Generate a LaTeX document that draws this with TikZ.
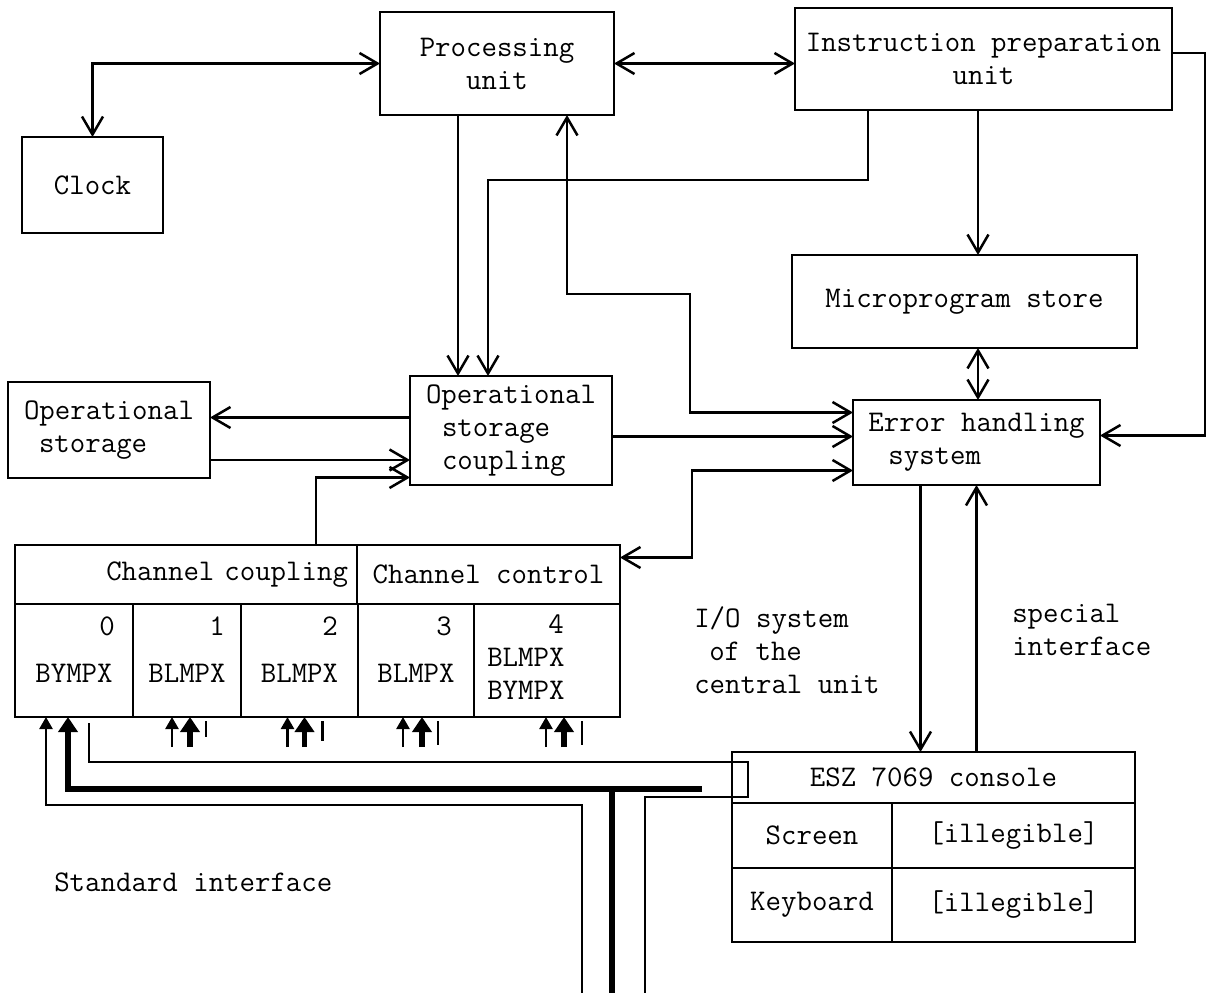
\documentclass[tikz,border=0pt]{standalone}
\usepackage{fontspec}
\usetikzlibrary{arrows.meta, positioning}

\tikzset{
  block/.style={draw, rectangle, outer sep=0pt, inner sep=0pt, align=center,
    font=\fontsize{30}{33}\selectfont\ttfamily},
  cell/.style={block, minimum height=113pt},
  lbl/.style={inner sep=0pt, align=left, font=\fontsize{30}{33}\selectfont\ttfamily},
  thickline/.style={line width=5.5pt},
  stubtip/.style={-{Triangle[length=12pt, width=13pt]}},
  bigtip/.style={-{Triangle[length=15pt, width=19pt]}},
}

\begin{document}
\begin{tikzpicture}[x=1pt, y=-1pt, line width=2.5pt,
    >={Straight Barb[length=18pt, width=21pt]}]
        \useasboundingbox (0,0) rectangle (1208,993);

        % Add the blocks
        \node[block, minimum width=234pt, minimum height=103pt] (proc) at (497,63.5) {Processing\\unit};
        \node[block, minimum width=377pt, minimum height=102pt] (instr) at (983.5,59) {Instruction preparation\\unit};
        \node[block, minimum width=141pt, minimum height=96pt] (clock) at (92.5,185) {Clock};
        \node[block, minimum width=345pt, minimum height=93pt] (micro) at (964.5,301.5) {Microprogram store};
        \node[block, minimum width=202pt, minimum height=96pt, align=left] (ops) at (109,430)
            {Operational\\\hspace*{15pt}storage};
        \node[block, minimum width=202pt, minimum height=109pt, align=left] (osc) at (511,430.5)
            {Operational\\\hspace*{16pt}storage\\\hspace*{16pt}coupling};
        \node[block, minimum width=247pt, minimum height=85pt, align=left] (err) at (976.5,442.5)
            {Error handling\\\hspace*{20pt}system};

        % Channel block
        \node[block, minimum width=342pt, minimum height=59pt, text width=324pt, align=right] (chcoup) at (186,574.5) {Channel coupling};
        \node[block, minimum width=263pt, minimum height=59pt, right=0pt of chcoup] (chctrl) {Channel control};
        \node[cell, minimum width=118pt, below right=0pt of chcoup.south west] (c0) {};
        \node[cell, minimum width=108pt, right=0pt of c0] (c1) {};
        \node[cell, minimum width=117pt, right=0pt of c1] (c2) {};
        \node[cell, minimum width=116pt, right=0pt of c2] (c3) {};
        \node[cell, minimum width=146pt, right=0pt of c3] (c4) {};

        \node[lbl, anchor=north east] (n0) at ([shift={(-17,12)}]c0.north east) {0};
        \node[lbl, anchor=north east] (n1) at ([shift={(-15,12)}]c1.north east) {1};
        \node[lbl, anchor=north east] (n2) at ([shift={(-19,12)}]c2.north east) {2};
        \node[lbl, anchor=north east] (n3) at ([shift={(-21,12)}]c3.north east) {3};
        \node[lbl, anchor=north] (n4) at ([shift={(9,9)}]c4.north) {4};
        \node[lbl] (t0) at ([yshift=-69pt]c0.north) {BYMPX};
        \node[lbl] (t1) at ([yshift=-69pt]c1.north) {BLMPX};
        \node[lbl] (t2) at ([yshift=-69pt]c2.north) {BLMPX};
        \node[lbl] (t3) at ([yshift=-69pt]c3.north) {BLMPX};
        \node[lbl, anchor=west] (t4) at ([shift={(12,70)}]c4.north west) {BLMPX\\BYMPX};

        % Console
        \node[block, minimum width=403pt, minimum height=51pt] (con) at (933.5,777.5) {ESZ 7069 console};
        \node[block, minimum width=160pt, minimum height=65pt, below right=0pt of con.south west] (scr) {Screen};
        \node[block, minimum width=243pt, minimum height=65pt, right=0pt of scr] (scrv) {[illegible]};
        \node[block, minimum width=160pt, minimum height=74pt, below=0pt of scr] (kbd) {Keyboard};
        \node[block, minimum width=243pt, minimum height=74pt, right=0pt of kbd] (kbdv) {[illegible]};
        \node[draw, outer sep=0pt, inner sep=0pt, minimum width=16pt, minimum height=35pt] (sq) at (740,779.5) {};

        % Free labels
        \node[lbl, anchor=west] (iosys) at (693,650) {I/O system\\\hspace*{15pt}of the\\central unit};
        \node[lbl, anchor=west] (spec) at (1011,630) {special\\interface};
        \node[lbl, anchor=west] (std) at (53,882) {Standard interface};

        % Connections between the blocks
        \draw[<->] (clock) |- (proc);
        \draw[<->] (proc.east) -- (proc.east -| instr.west);
        \draw[->] ([xshift=-39pt]proc.south) -- ([xshift=-39pt]proc.south |- osc.north);
        \draw[->] ([xshift=-115.5pt]instr.south) -- ++(0,70) -| ([xshift=-23pt]osc.north);
        \draw[<->] ([xshift=70pt]proc.south) -- ++(0,179) -- ++(123,0) |- ([yshift=30pt]err.west);
        \draw[->] ([yshift=-6pt]osc.east) -- ([yshift=-6pt]osc.east -| err.west);
        \draw[<->] ([yshift=17pt]chctrl.east) -- ++(72,0) |- ([yshift=-28pt]err.west);
        \draw[->] ([xshift=-5.5pt]instr.south) -- ([xshift=-5.5pt]instr.south |- micro.north);
        \draw[<->] ([xshift=13.5pt]micro.south) -- ([xshift=13.5pt]micro.south |- err.north);
        \draw[->] ([yshift=6pt]instr.east) -- ++(33,0) |- ([yshift=7pt]err.east);
        \draw[->] ([yshift=13pt]osc.west) -- ([yshift=13pt]osc.west -| ops.east);
        \draw[->] ([yshift=-30pt]ops.east) -- ([yshift=-30pt]ops.east -| osc.west);
        \draw[->] ([xshift=130pt]chcoup.north) |- ([yshift=-47pt]osc.west);
        \draw[->] ([xshift=-56pt]err.south) -- ([xshift=-56pt]err.south |- con.north);
        \draw[->] ([xshift=43pt]con.north) -- ([xshift=43pt]con.north |- err.south);

        % Standard interface lines
        \coordinate (busA) at (582,993);
        \coordinate (busB) at (612,993);
        \coordinate (busC) at (645,993);
        \coordinate (busend) at (702,789);
        \draw[stubtip] (busA) -- ++(0,-188) -| ([xshift=-28pt]c0.south);
        \draw[thickline] (busB) |- (busend);
        \draw[thickline, bigtip] (busend) -| ([xshift=-6pt]c0.south);
        \draw ([xshift=15pt, yshift=-6pt]c0.south) |- (sq.north west);
        \draw (sq.south west) -| (busC);

        % Stubs under the channels
        \draw[stubtip] ([shift={(-15,30)}]c1.south) -- ([xshift=-15pt]c1.south);
        \draw[thickline, bigtip] ([shift={(3,30)}]c1.south) -- ([xshift=3pt]c1.south);
        \draw ([shift={(19,4)}]c1.south) -- ++(0,16);
        \draw[stubtip] ([shift={(-12,30)}]c2.south) -- ([xshift=-12pt]c2.south);
        \draw[thickline, bigtip] ([shift={(5,30)}]c2.south) -- ([xshift=5pt]c2.south);
        \draw ([shift={(23,4)}]c2.south) -- ++(0,20);
        \draw[stubtip] ([shift={(-13,30)}]c3.south) -- ([xshift=-13pt]c3.south);
        \draw[thickline, bigtip] ([shift={(6,30)}]c3.south) -- ([xshift=6pt]c3.south);
        \draw ([shift={(22,4)}]c3.south) -- ++(0,24);
        \draw[stubtip] ([shift={(-1,30)}]c4.south) -- ([xshift=-1pt]c4.south);
        \draw[thickline, bigtip] ([shift={(17,30)}]c4.south) -- ([xshift=17pt]c4.south);
        \draw ([shift={(35,4)}]c4.south) -- ++(0,24);
    \end{tikzpicture}
\end{document}
